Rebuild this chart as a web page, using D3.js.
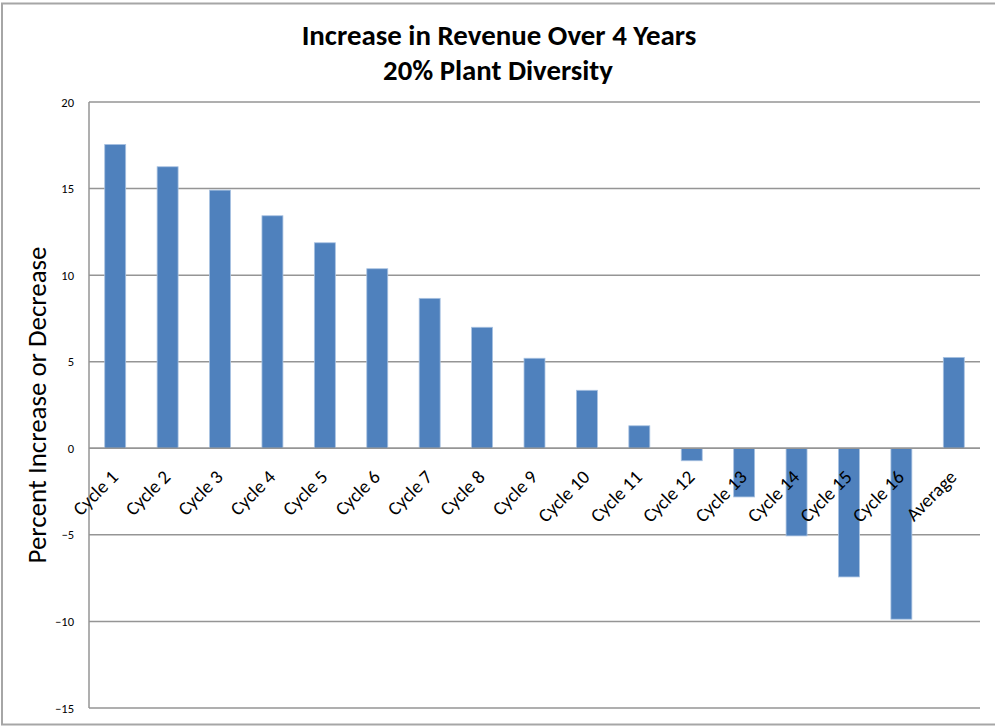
<!DOCTYPE html>
<html>
<head>
<meta charset="utf-8">
<script src="https://cdn.jsdelivr.net/npm/d3@7"></script>
<style>
  html, body { margin: 0; padding: 0; background: #fff; }
  svg { display: block; }
  text { font-family: Carlito, Calibri, Lato, "Noto Sans", sans-serif; fill: #000; }
</style>
</head>
<body>
<svg id="chart" width="995" height="726"></svg>
<script>
// ---- data ----
const categories = ["Cycle 1","Cycle 2","Cycle 3","Cycle 4","Cycle 5","Cycle 6","Cycle 7","Cycle 8",
  "Cycle 9","Cycle 10","Cycle 11","Cycle 12","Cycle 13","Cycle 14","Cycle 15","Cycle 16","Average"];
const values = [17.55, 16.26, 14.91, 13.43, 11.87, 10.37, 8.66, 6.99,
  5.20, 3.35, 1.30, -0.72, -2.81, -5.06, -7.43, -9.87, 5.25];
const yTicks = [-15, -10, -5, 0, 5, 10, 15, 20];
const titleLines = ["Increase in Revenue Over 4 Years", "20% Plant Diversity"];
const yAxisTitle = "Percent Increase or Decrease";

// ---- layout ----
const W = 995, H = 726;
const plot = { left: 89, right: 980, top: 102, bottom: 708 };
const svg = d3.select("#chart");

// outer chart border
svg.append("rect")
  .attr("x", 2).attr("y", 3.5).attr("width", 1010).attr("height", 721)
  .attr("fill", "#fff").attr("stroke", "#a6a6a6").attr("stroke-width", 2);

const x = d3.scaleBand().domain(categories)
  .range([plot.left, plot.right]).paddingInner(0.6).paddingOuter(0.3);
const y = d3.scaleLinear().domain([-15, 20]).range([plot.bottom, plot.top]);

// gridlines
svg.append("g").selectAll("line").data(yTicks).join("line")
  .attr("x1", plot.left).attr("x2", plot.right)
  .attr("y1", d => y(d)).attr("y2", d => y(d))
  .attr("stroke", "#959595").attr("stroke-width", 1.5);

// y-axis (labels only, via d3 axis)
const yAxis = d3.axisLeft(y).tickValues(yTicks).tickSize(0).tickPadding(0).tickFormat(d3.format("d"));
const gy = svg.append("g").attr("transform", `translate(${plot.left - 15},0)`).call(yAxis);
gy.select(".domain").remove();
gy.selectAll("text").attr("font-size", 12.5).attr("fill", "#000")
  .style("font-family", 'Carlito, Calibri, Lato, "Noto Sans", sans-serif');

// left axis line
svg.append("line")
  .attr("x1", plot.left).attr("x2", plot.left)
  .attr("y1", plot.top).attr("y2", plot.bottom)
  .attr("stroke", "#959595").attr("stroke-width", 1.5);

// bars
svg.append("g").selectAll("rect").data(values).join("rect")
  .attr("x", (d, i) => x(categories[i]))
  .attr("width", x.bandwidth())
  .attr("y", d => y(Math.max(0, d)))
  .attr("height", d => Math.abs(y(d) - y(0)))
  .attr("fill", "#4f81bd")
  .attr("stroke", "#a9c2e1").attr("stroke-width", 0.8);

// zero axis line on top
svg.append("line")
  .attr("x1", plot.left).attr("x2", plot.right)
  .attr("y1", y(0)).attr("y2", y(0))
  .attr("stroke", "#959595").attr("stroke-width", 1.5);

// category labels rotated
svg.append("g").selectAll("text").data(categories).join("text")
  .attr("transform", d => `translate(${x(d) + x.bandwidth() / 2 + 4},${y(0) + 30}) rotate(-45)`)
  .attr("text-anchor", "end")
  .attr("font-size", 19)
  .text(d => d);

// helper to fit a text to a target width
function fit(sel, target) {
  const fs = parseFloat(sel.attr("font-size"));
  const w = sel.node().getComputedTextLength();
  sel.attr("font-size", fs * target / w);
}

// title
const t1 = svg.append("text").attr("x", 499).attr("y", 45).attr("text-anchor", "middle")
  .attr("font-weight", "bold").attr("font-size", 26).text(titleLines[0]);
fit(t1, 395);
const t2 = svg.append("text").attr("x", 498).attr("y", 80).attr("text-anchor", "middle")
  .attr("font-weight", "bold").attr("font-size", 26).text(titleLines[1]);
fit(t2, 230);

// y axis title
const yt = svg.append("text")
  .attr("transform", `translate(46,${(plot.top + plot.bottom) / 2}) rotate(-90)`)
  .attr("text-anchor", "middle").attr("font-size", 22).text(yAxisTitle);
fit(yt, 317);
</script>
</body>
</html>
